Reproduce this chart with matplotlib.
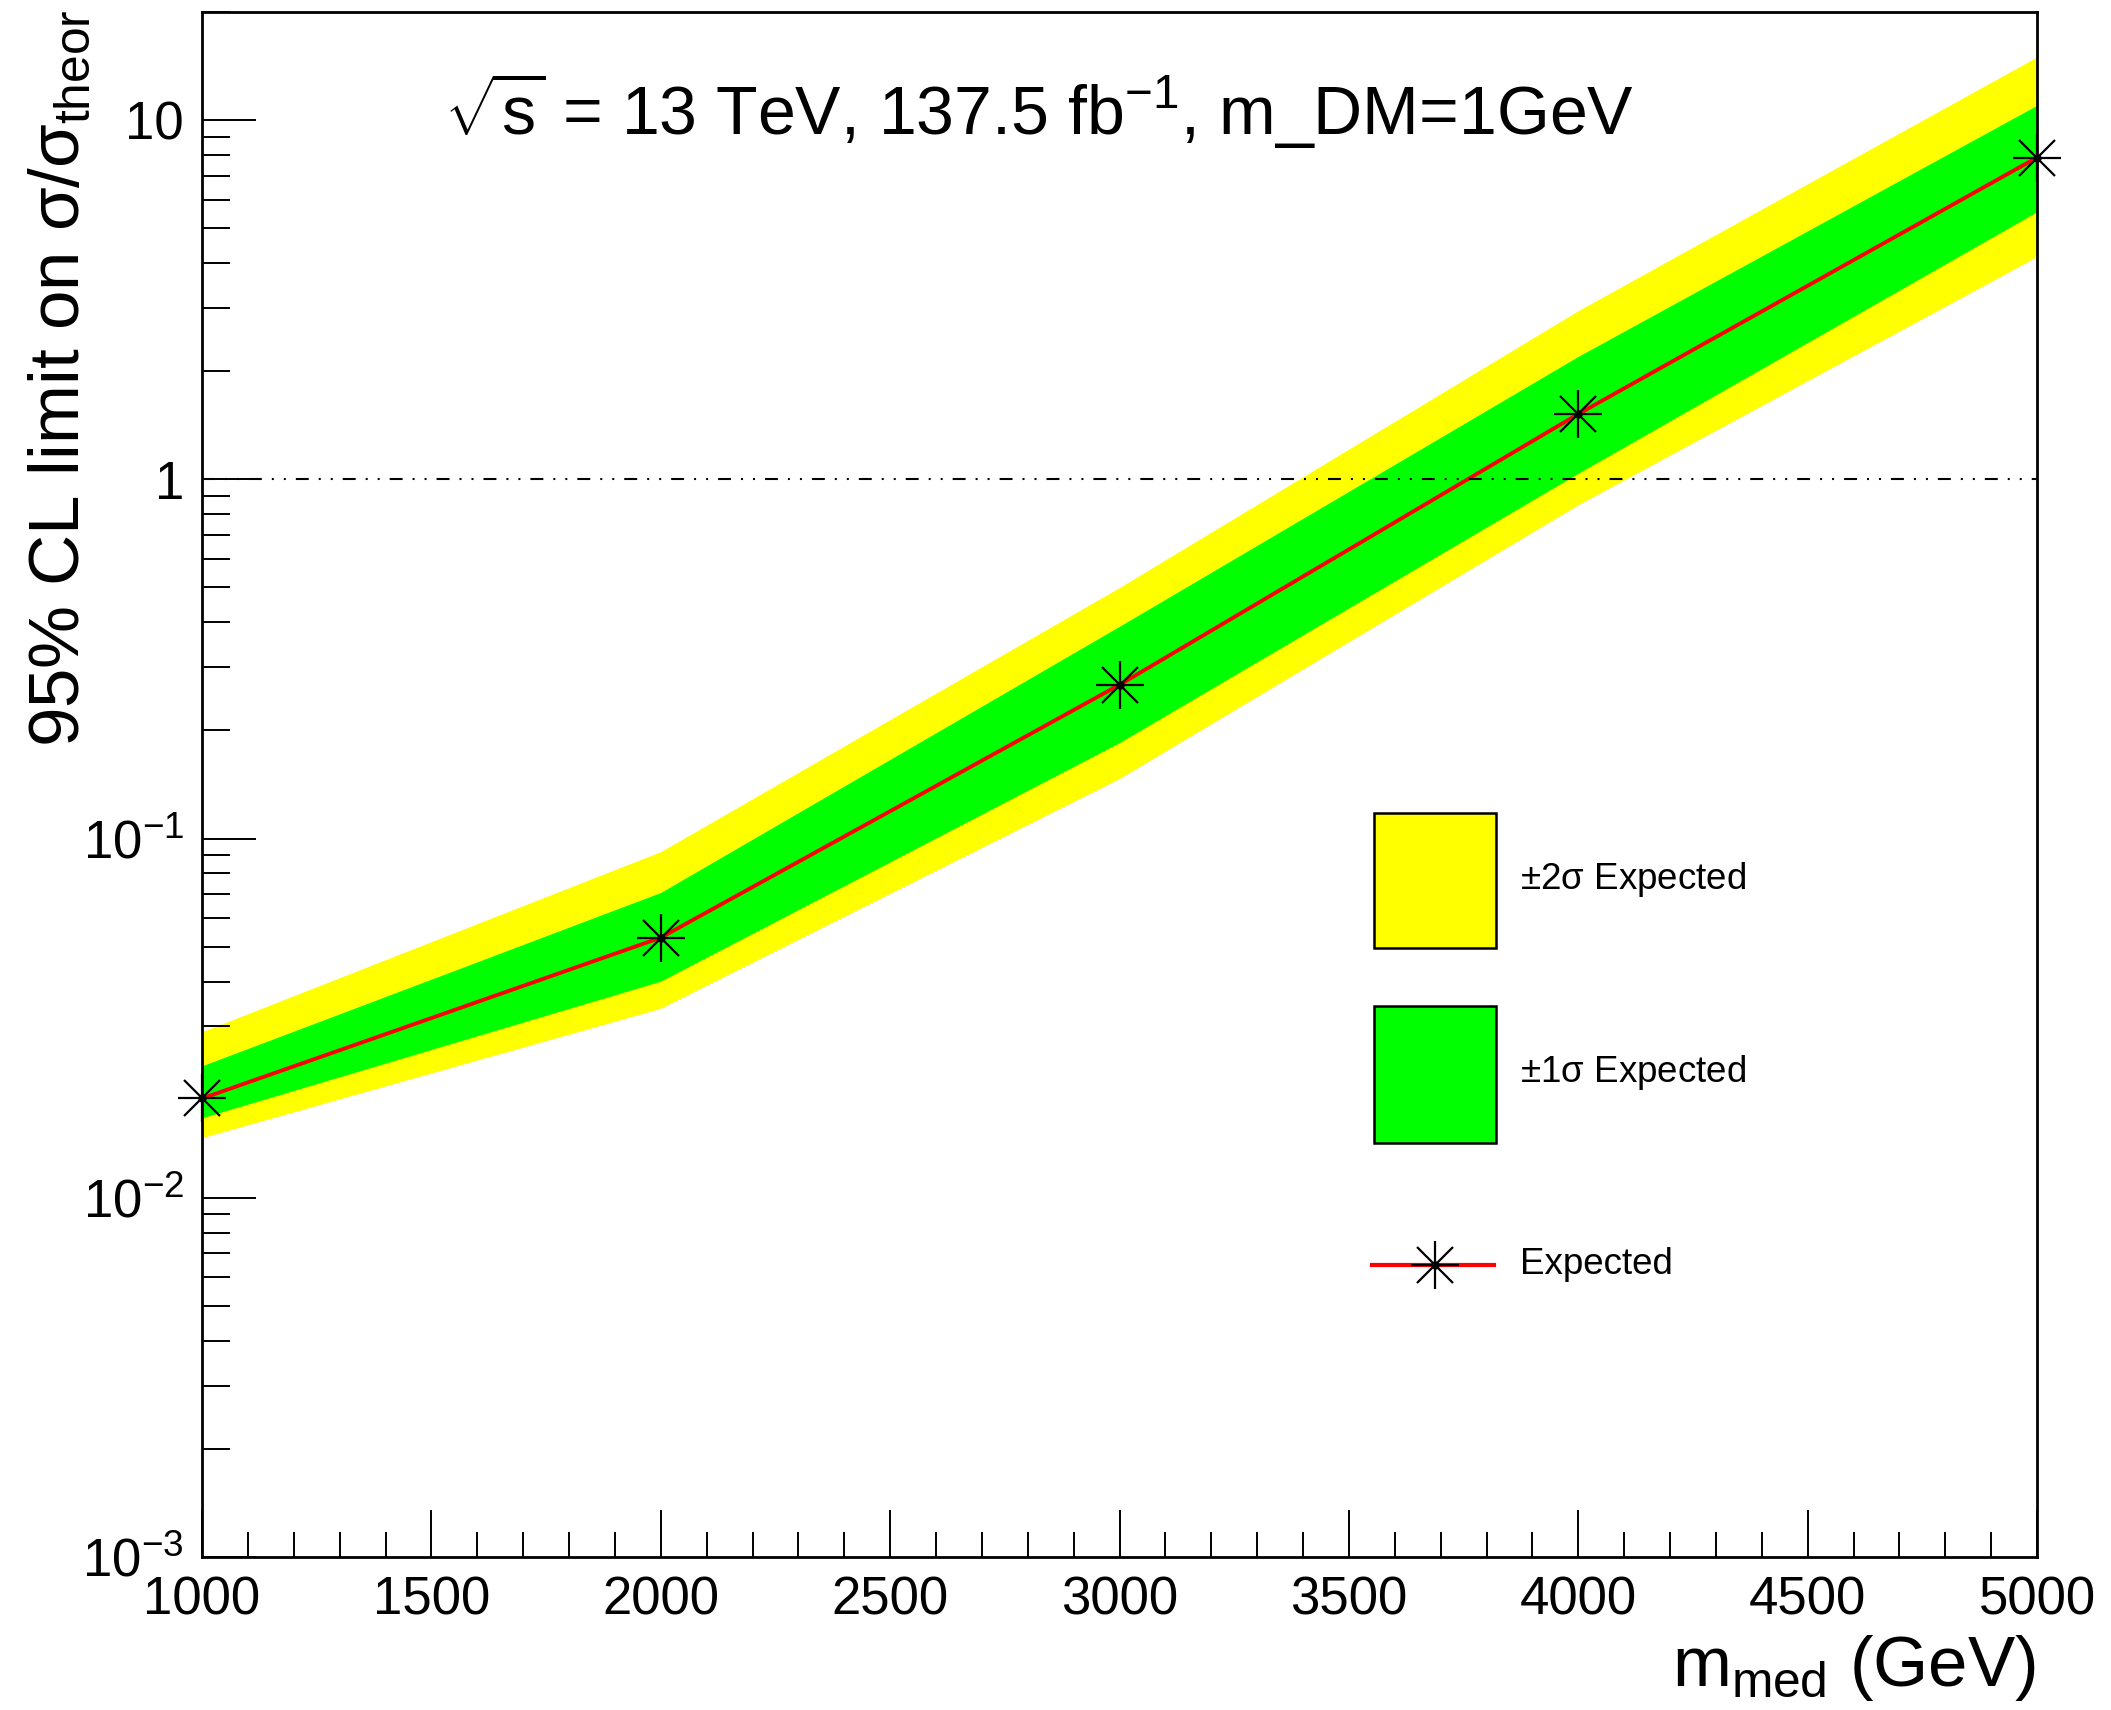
import matplotlib
matplotlib.use("Agg")
import matplotlib.pyplot as plt
from matplotlib.patches import Rectangle
from matplotlib.lines import Line2D
from matplotlib.ticker import FixedLocator, NullFormatter, LogLocator, MultipleLocator

plt.rcParams['font.family'] = ['Liberation Sans', 'DejaVu Sans']
plt.rcParams['mathtext.fontset'] = 'custom'
plt.rcParams['mathtext.rm'] = 'Liberation Sans'
plt.rcParams['mathtext.it'] = 'Liberation Sans'
plt.rcParams['mathtext.bf'] = 'Liberation Sans:bold'
plt.rcParams['mathtext.sf'] = 'Liberation Sans'

# ---- data ----
mass = [1000, 2000, 3000, 4000, 5000]
expected = [0.0189, 0.053, 0.268, 1.52, 7.87]
minus1 = [0.0167, 0.0401, 0.185, 1.04, 5.56]
plus1 = [0.0233, 0.0708, 0.39, 2.2, 11.0]
minus2 = [0.0147, 0.0337, 0.147, 0.85, 4.17]
plus2 = [0.029, 0.092, 0.50, 2.95, 15.0]

ytick_vals = [1e-3, 1e-2, 1e-1, 1, 10]
ytick_labels = [r"$10^{-3}$", r"$10^{-2}$", r"$10^{-1}$", "1", "10"]
xtick_vals = [1000, 1500, 2000, 2500, 3000, 3500, 4000, 4500, 5000]
xtick_labels = ["1000", "1500", "2000", "2500", "3000", "3500", "4000", "4500", "5000"]

legend_labels = [r"$\pm2\sigma$ Expected", r"$\pm1\sigma$ Expected", "Expected"]

W, H = 2111, 1710
fig = plt.figure(figsize=(W / 100, H / 100), dpi=100)

def fx(px):
    return px / W

def fy(py):
    return 1 - py / H

ax = fig.add_axes([fx(202), fy(1557), fx(2037) - fx(202), fy(12) - fy(1557)])

YEL = "#ffff00"
GRN = "#00ff00"

ax.fill_between(mass, minus2, plus2, color=YEL, lw=0, zorder=1)
ax.fill_between(mass, minus1, plus1, color=GRN, lw=0, zorder=2)
ax.plot(mass, expected, color="#ff0000", lw=2.8, zorder=3)

# asterisk markers (ROOT style 3)
ax.plot(mass, expected, ls="none", marker="+", ms=34, mew=1.6, color="black", zorder=4, clip_on=False)
ax.plot(mass, expected, ls="none", marker="x", ms=26, mew=1.6, color="black", zorder=4, clip_on=False)
ax.plot(mass, expected, ls="none", marker="o", ms=5, color="black", zorder=4, clip_on=False)

# reference line at 1
ax.axhline(1, color="black", lw=1.5, dashes=(6.2, 4.8, 0.96, 4.8, 0.96, 4.8), zorder=5)

ax.set_yscale("log")
ax.set_xlim(1000, 5000)
ax.set_ylim(1e-3, 20)

ax.yaxis.set_major_locator(FixedLocator(ytick_vals))
ax.set_yticklabels(ytick_labels)
ax.yaxis.set_minor_locator(LogLocator(base=10, subs=[2, 3, 4, 5, 6, 7, 8, 9], numticks=20))
ax.yaxis.set_minor_formatter(NullFormatter())

ax.xaxis.set_major_locator(FixedLocator(xtick_vals))
ax.set_xticklabels(xtick_labels)
ax.xaxis.set_minor_locator(MultipleLocator(100))

ax.tick_params(axis="both", which="both", direction="in", top=False, right=False,
               width=1.4, color="black")
ax.tick_params(axis="y", which="major", length=39, pad=13, labelsize=38)
ax.tick_params(axis="y", which="minor", length=20)
ax.tick_params(axis="x", which="major", length=34, pad=13, labelsize=38)
ax.tick_params(axis="x", which="minor", length=18)

for s in ax.spines.values():
    s.set_linewidth(2)
    s.set_zorder(6)

# axis titles
fig.text(fx(28), fy(10), r"95% CL limit on $\sigma/\sigma_{\rm theor}$", rotation=90,
         ha="left", va="top", fontsize=51)
fig.text(fx(2036), fy(1686), r"$m_{\rm med}$ (GeV)", ha="right", va="baseline", fontsize=51)

# annotation
fig.text(fx(444), fy(135), r"$\sqrt{s}$ = 13 TeV, 137.5 fb$^{-1}$, m_DM=1GeV",
         ha="left", va="baseline", fontsize=49)

# legend (drawn manually)
fig.add_artist(Rectangle((fx(1374), fy(948)), fx(1496) - fx(1374), fy(813) - fy(948),
                         transform=fig.transFigure, facecolor=YEL, edgecolor="black", lw=1.8))
fig.add_artist(Rectangle((fx(1374), fy(1143)), fx(1496) - fx(1374), fy(1006) - fy(1143),
                         transform=fig.transFigure, facecolor=GRN, edgecolor="black", lw=1.8))
fig.add_artist(Line2D([fx(1372), fx(1494)], [fy(1265), fy(1265)], transform=fig.transFigure,
                      color="#ff0000", lw=3))
for mk, ms in [("+", 34), ("x", 26)]:
    fig.add_artist(Line2D([fx(1435)], [fy(1265)], transform=fig.transFigure, ls="none",
                          marker=mk, ms=ms, mew=1.6, color="black"))
fig.add_artist(Line2D([fx(1435)], [fy(1265)], transform=fig.transFigure, ls="none",
                      marker="o", ms=5, color="black"))

for lab, yc in zip(legend_labels, [879, 1072, 1264]):
    fig.text(fx(1520), fy(yc), lab, ha="left", va="center", fontsize=26.5)

fig.savefig("out.png", dpi=100)
